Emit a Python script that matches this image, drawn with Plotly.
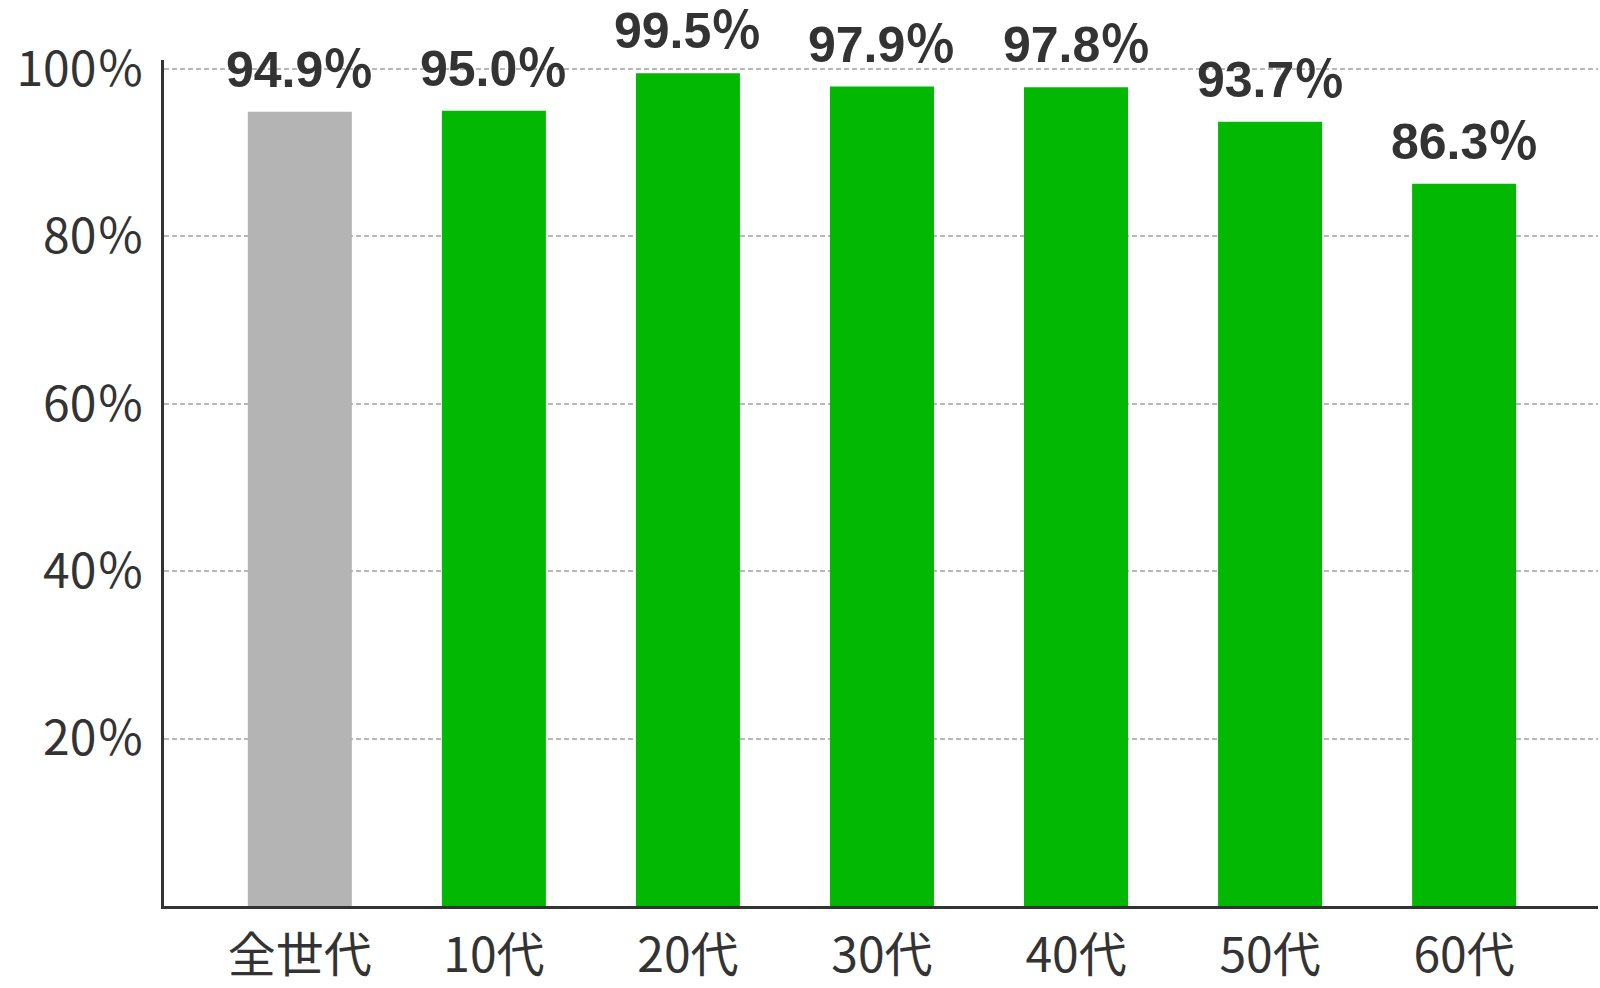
import plotly.graph_objects as go

categories = ["全世代", "10代", "20代", "30代", "40代", "50代", "60代"]
values = [94.9, 95.0, 99.5, 97.9, 97.8, 93.7, 86.3]
labels = ["94.9％", "95.0％", "99.5％", "97.9％", "97.8％", "93.7％", "86.3％"]
colors = ["#b4b4b4"] + ["#03b803"] * 6
y_tickvals = [20, 40, 60, 80, 100]
y_ticktext = ["20％", "40％", "60％", "80％", "100％"]

FONT = "Noto Sans CJK JP"
LABEL_FONT = "Liberation Sans, Noto Sans CJK JP"

fig = go.Figure(
    go.Bar(
        x=categories,
        y=values,
        marker=dict(color=colors, line=dict(width=0)),
        width=0.536,
        cliponaxis=False,
    )
)

for cat, val, lab in zip(categories, values, labels):
    fig.add_annotation(
        x=cat,
        y=val,
        text=lab,
        showarrow=False,
        xanchor="center",
        yanchor="bottom",
        yshift=12,
        font=dict(family=LABEL_FONT, size=50, color="#333333", weight="bold"),
    )

fig.update_layout(
    width=1600,
    height=988,
    margin=dict(l=164, r=2, t=60, b=82, autoexpand=False),
    paper_bgcolor="white",
    plot_bgcolor="white",
    showlegend=False,
    font=dict(family=FONT, color="#333333"),
)

fig.update_xaxes(
    range=[-0.70, 6.69],
    automargin=False,
    showline=True,
    linecolor="#333333",
    linewidth=3,
    showgrid=False,
    tickfont=dict(family=FONT, size=48, color="#333333"),
    ticks="",
    ticklabelstandoff=5,
)

fig.update_yaxes(
    range=[0, 101.07],
    automargin=False,
    tickvals=y_tickvals,
    ticktext=y_ticktext,
    showline=True,
    linecolor="#333333",
    linewidth=3,
    showgrid=True,
    gridcolor="#b8b8b8",
    gridwidth=1.5,
    griddash="5px,3px",
    zeroline=False,
    tickfont=dict(family=FONT, size=48, color="#333333"),
    ticks="",
    ticklabelstandoff=7,
)

fig.write_html(
    "out.html",
    config={"displayModeBar": False},
    post_script="document.body.style.margin='0';document.body.style.padding='0';document.body.style.overflow='hidden';",
)
